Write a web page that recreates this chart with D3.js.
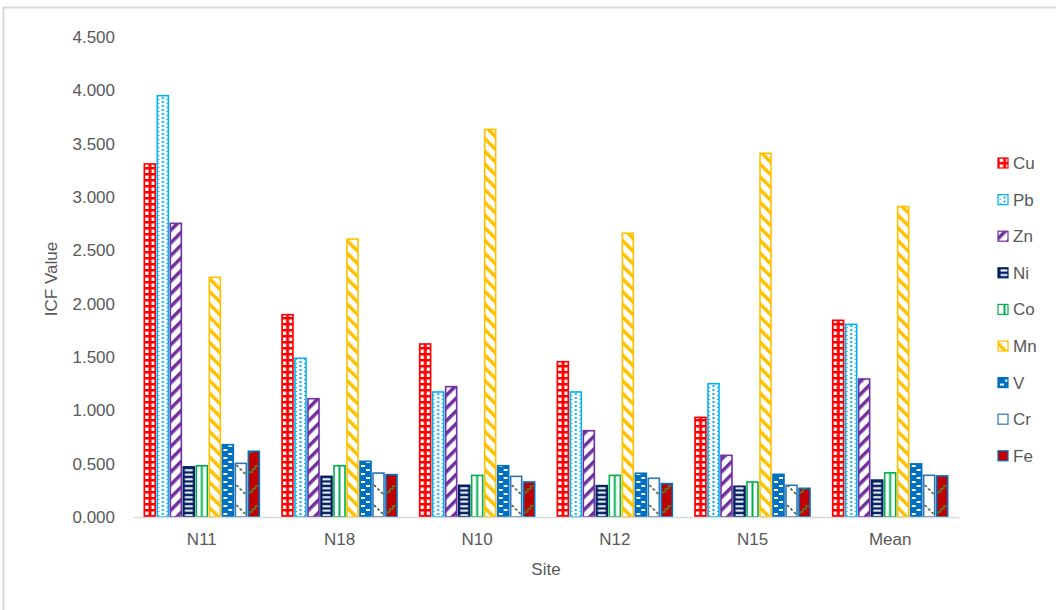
<!DOCTYPE html>
<meta charset="utf-8">
<style>
  body { margin: 0; background: #fff; }
  text { font-family: "Liberation Sans", Arial, sans-serif; fill: #595959; }
  .tick text { font-size: 17px; }
</style>
<body>
<svg width="1056" height="610"></svg>
<script src="https://d3js.org/d3.v7.min.js"></script>
<script>

// data
var sites = ["N11", "N18", "N10", "N12", "N15", "Mean"];
var metals = ["Cu", "Pb", "Zn", "Ni", "Co", "Mn", "V", "Cr", "Fe"];
var Cu = [3.31, 1.897, 1.622, 1.456, 0.934, 1.844];
var Pb = [3.95, 1.488, 1.172, 1.172, 1.250, 1.806];
var Zn = [2.753, 1.109, 1.222, 0.809, 0.578, 1.294];
var Ni = [0.470, 0.381, 0.297, 0.294, 0.288, 0.346];
var Co = [0.480, 0.481, 0.390, 0.390, 0.328, 0.414];
var Mn = [2.247, 2.606, 3.634, 2.660, 3.410, 2.911];
var V  = [0.678, 0.522, 0.481, 0.410, 0.400, 0.498];
var Cr = [0.503, 0.412, 0.381, 0.363, 0.297, 0.391];
var Fe = [0.616, 0.397, 0.328, 0.313, 0.269, 0.385];
var yTicks = [0, 0.5, 1, 1.5, 2, 2.5, 3, 3.5, 4, 4.5];

var values = { Cu: Cu, Pb: Pb, Zn: Zn, Ni: Ni, Co: Co, Mn: Mn, V: V, Cr: Cr, Fe: Fe };
var strokeColor = { Cu: "#ff0000", Pb: "#00b0f0", Zn: "#7030a0", Ni: "#002060", Co: "#00b050",
                    Mn: "#ffc000", V: "#0070c0", Cr: "#2e75b6", Fe: "#0070c0" };

var svg = d3.select("svg");

// outer frame (only top and left edges are visible)
svg.append("rect")
    .attr("x", 3.5).attr("y", 7.5)
    .attr("width", 1200).attr("height", 800)
    .attr("fill", "none")
    .attr("stroke", "#d9d9d9")
    .attr("stroke-width", 2);

// ---- patterns, one per metal ----
var defs = svg.append("defs");
function pat(id, w, h, rot) {
  var p = defs.append("pattern")
      .attr("id", id)
      .attr("patternUnits", "userSpaceOnUse")
      .attr("width", w).attr("height", h);
  if (rot) p.attr("patternTransform", "rotate(" + rot + ")");
  return p;
}
var p;
// Cu: red grid
p = pat("p-Cu", 6.5, 6);
p.append("rect").attr("width", 6.5).attr("height", 6).attr("fill", "#ff0000");
p.append("rect").attr("x", 1.6).attr("y", 1.5).attr("width", 3.6).attr("height", 3.5).attr("fill", "#fff");
// Pb: blue dots
p = pat("p-Pb", 13, 4);
p.append("rect").attr("width", 13).attr("height", 4).attr("fill", "#fff");
p.append("rect").attr("x", 5.5).attr("y", 1).attr("width", 2).attr("height", 2).attr("fill", "#00b0f0");
p.append("rect").attr("x", 1.5).attr("y", 3).attr("width", 1.5).attr("height", 1.5).attr("fill", "#00b0f0");
p.append("rect").attr("x", 10).attr("y", 3).attr("width", 1.5).attr("height", 1.5).attr("fill", "#00b0f0");
// Zn: wide upward diagonal
p = pat("p-Zn", 9, 9, 45);
p.append("rect").attr("width", 9).attr("height", 9).attr("fill", "#fff");
p.append("rect").attr("width", 3.5).attr("height", 9).attr("fill", "#7030a0");
// Ni: horizontal white dashes on navy
p = pat("p-Ni", 13, 4.5);
p.append("rect").attr("width", 13).attr("height", 4.5).attr("fill", "#002060");
p.append("rect").attr("x", 2.5).attr("y", 1.2).attr("width", 8).attr("height", 2).attr("fill", "#fff");
// Co: vertical line
p = pat("p-Co", 13, 4);
p.append("rect").attr("width", 13).attr("height", 4).attr("fill", "#fff");
p.append("rect").attr("x", 5.5).attr("width", 2).attr("height", 4).attr("fill", "#00b050");
// Mn: wide downward diagonal
p = pat("p-Mn", 9, 9, -45);
p.append("rect").attr("width", 9).attr("height", 9).attr("fill", "#fff");
p.append("rect").attr("width", 3.5).attr("height", 9).attr("fill", "#ffc000");
// V: white dashes on blue
p = pat("p-V", 13, 8);
p.append("rect").attr("width", 13).attr("height", 8).attr("fill", "#0070c0");
p.append("rect").attr("x", 2).attr("y", 1).attr("width", 4).attr("height", 2).attr("fill", "#fff");
p.append("rect").attr("x", 7).attr("y", 5).attr("width", 4).attr("height", 2).attr("fill", "#fff");
// Cr: sparse dark green diagonal dashes on white
p = pat("p-Cr", 13, 20);
p.append("rect").attr("width", 13).attr("height", 20).attr("fill", "#fff");
p.append("path").attr("d", "M2,5 L4,7 M5.5,8.5 L7.5,10.5 M9,12 L11,14")
    .attr("stroke", "#375623").attr("stroke-width", 1.6).attr("fill", "none");
// Fe: dark red with green steps
p = pat("p-Fe", 13, 20);
p.append("rect").attr("width", 13).attr("height", 20).attr("fill", "#c00000");
p.append("path").attr("d", "M2,14 L2,12 L5,12 L5,9 L8,9 L8,6 L11,6")
    .attr("stroke", "#548235").attr("stroke-width", 1.4).attr("fill", "none");

// ---- scales ----
var x0 = d3.scaleBand().domain(sites).range([133, 959]).paddingInner(0.15).paddingOuter(0.075);
var x1 = d3.scaleBand().domain(metals).range([0, x0.bandwidth()]);
var y = d3.scaleLinear().domain([0, 4.5]).range([517, 37]);

// y axis labels
var yAxis = svg.append("g")
    .attr("transform", "translate(115,0)")
    .call(d3.axisLeft(y).tickValues(yTicks).tickFormat(d3.format(".3f")).tickSize(0).tickPadding(0));
yAxis.select(".domain").remove();
yAxis.selectAll("text").attr("fill", "#595959");

// bars
var groups = svg.append("g").selectAll("g")
    .data(sites)
    .join("g")
    .attr("transform", function(d) { return "translate(" + x0(d) + ",0)"; });

groups.selectAll("g")
    .data(function(s, i) { return metals.map(function(m) { return { m: m, v: values[m][i] }; }); })
    .join("g")
    .attr("transform", function(d) { return "translate(" + x1(d.m) + ",0)"; })
    .append("rect")
    .attr("x", 1)
    .attr("y", function(d) { return y(d.v); })
    .attr("width", x1.bandwidth() - 2)
    .attr("height", function(d) { return y(0) - y(d.v); })
    .attr("fill", function(d) { return "url(#p-" + d.m + ")"; })
    .attr("stroke", function(d) { return strokeColor[d.m]; })
    .attr("stroke-width", 1.6);

// x axis
var xAxis = svg.append("g")
    .attr("transform", "translate(0,517)")
    .call(d3.axisBottom(x0).tickSize(0).tickPadding(16));
xAxis.select(".domain").attr("stroke", "#d9d9d9").attr("stroke-width", 1.5);
xAxis.selectAll("text").attr("fill", "#595959");

// axis titles
svg.append("text")
    .attr("transform", "translate(57,279) rotate(-90)")
    .attr("text-anchor", "middle")
    .style("font-size", "17px")
    .text("ICF Value");
svg.append("text")
    .attr("x", 546).attr("y", 575)
    .attr("text-anchor", "middle")
    .style("font-size", "17px")
    .text("Site");

// legend
var legend = svg.append("g").selectAll("g")
    .data(metals)
    .join("g")
    .attr("transform", function(d, i) { return "translate(998," + (163 + i * 36.6) + ")"; });
legend.append("rect")
    .attr("x", 0).attr("y", -5)
    .attr("width", 10).attr("height", 10)
    .attr("fill", function(d) { return "url(#p-" + d + ")"; })
    .attr("stroke", function(d) { return strokeColor[d]; })
    .attr("stroke-width", 1.2);
legend.append("text")
    .attr("x", 15).attr("y", 0)
    .attr("dy", "0.35em")
    .style("font-size", "17px")
    .text(function(d) { return d; });

</script>
</body>
